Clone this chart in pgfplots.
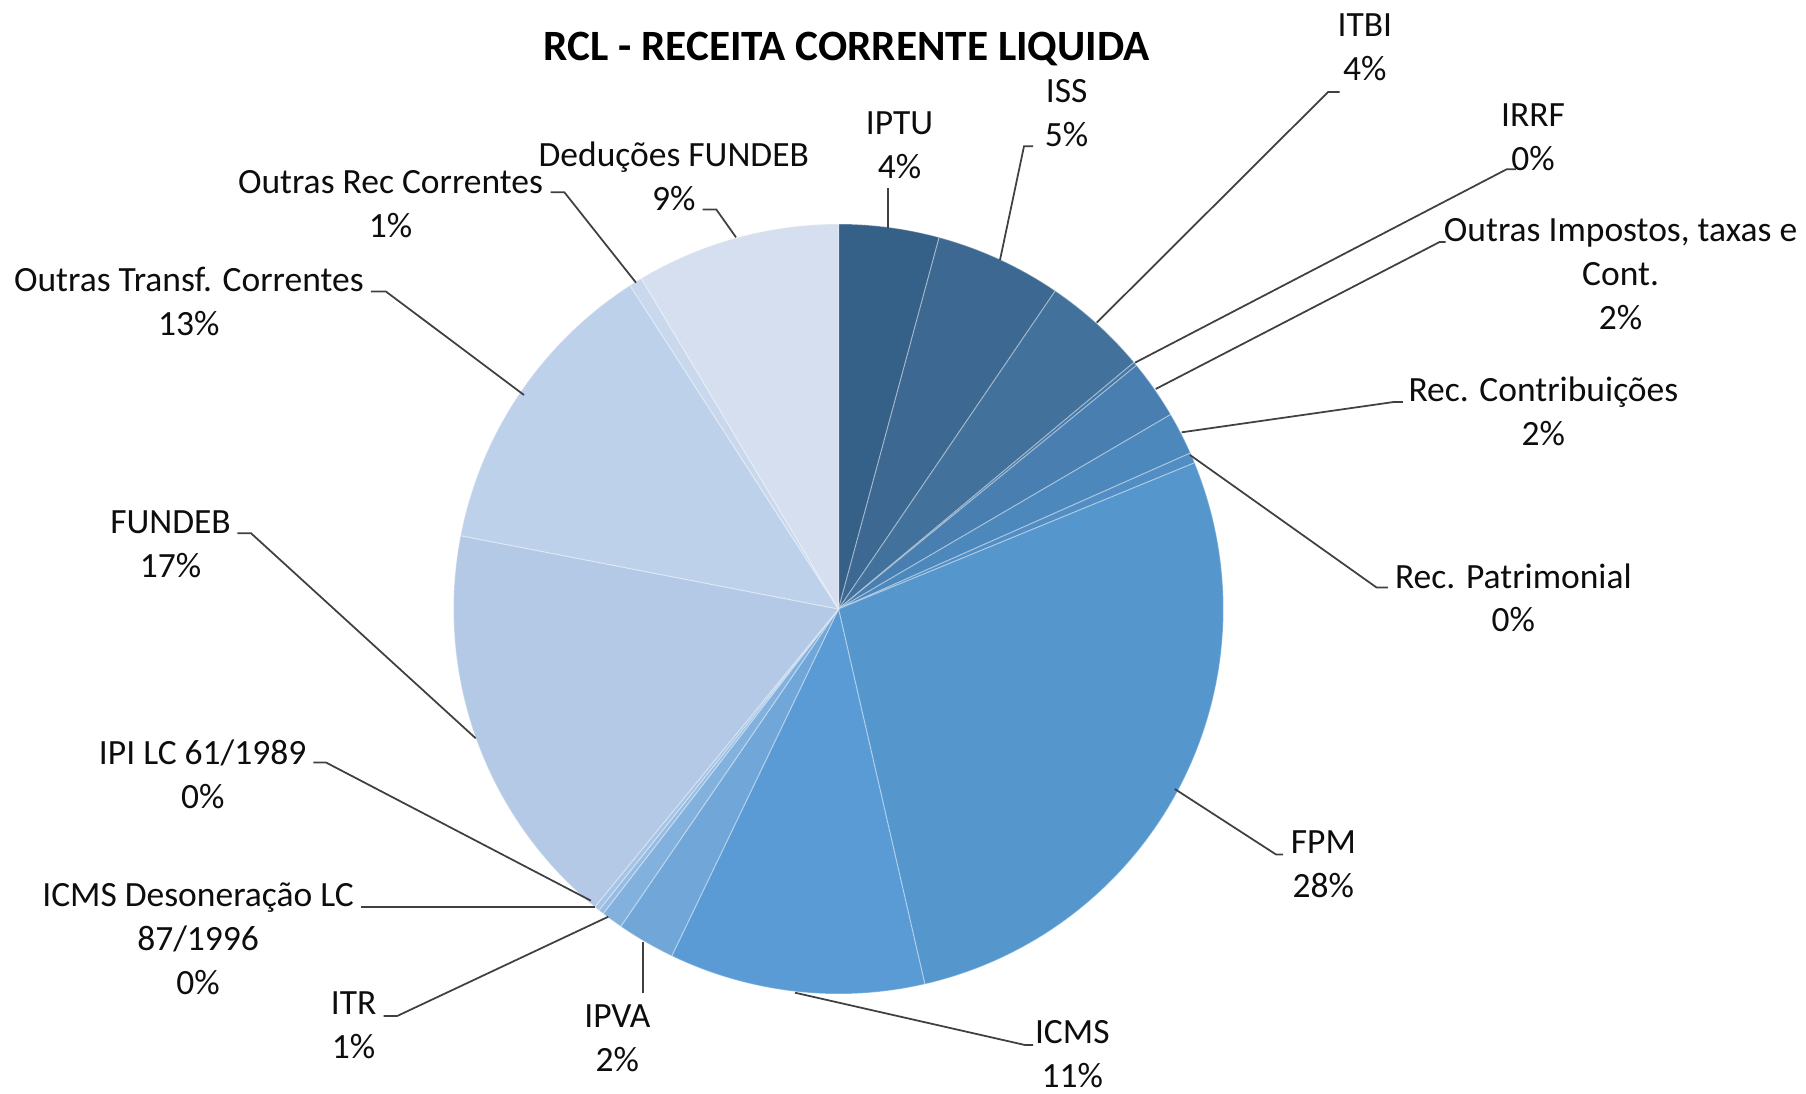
\documentclass[border=0pt]{standalone}
\usepackage{pgfplots}
\pgfplotsset{compat=1.18}
\usepackage{fontspec}
\setmainfont{Carlito}
\definecolor{c1}{RGB}{53,96,135}
\definecolor{c2}{RGB}{60,104,145}
\definecolor{c3}{RGB}{66,114,156}
\definecolor{c4}{RGB}{70,120,166}
\definecolor{c5}{RGB}{72,126,176}
\definecolor{c6}{RGB}{77,136,189}
\definecolor{c7}{RGB}{82,142,196}
\definecolor{c8}{RGB}{85,150,205}
\definecolor{c9}{RGB}{91,155,213}
\definecolor{c10}{RGB}{112,166,216}
\definecolor{c11}{RGB}{131,177,222}
\definecolor{c12}{RGB}{150,188,228}
\definecolor{c13}{RGB}{165,196,230}
\definecolor{c14}{RGB}{180,201,229}
\definecolor{c15}{RGB}{190,209,234}
\definecolor{c16}{RGB}{201,216,237}
\definecolor{c17}{RGB}{213,223,240}
\tikzset{lab/.style={font=\fontsize{10.1}{12.5}\selectfont, align=center, text=black!95},
  leader/.style={draw=black!75, line width=0.5pt, mark=none}}
\newcommand\cum{0}
\newcommand\slice[2]{%
  \pgfmathsetmacro\sa{\cum*3.6}%
  \pgfmathsetmacro\sb{(\cum+#1)*3.6}%
  \pgfmathsetmacro\tmp{\cum+#1}%
  \xdef\cum{\tmp}%
  \edef\doslice{\noexpand\addplot[fill=#2, draw=white, draw opacity=0.35, line width=0.3pt, domain=\sa:\sb, samples=90] ({838.5+385*sin(x)},{484+385*cos(x)}) -- (axis cs:838.5,484) -- cycle;}%
  \doslice
}
\begin{document}
\begin{tikzpicture}
\begin{axis}[hide axis, scale only axis, width=18.06cm, height=10.93cm,
  xmin=0, xmax=1806, ymin=0, ymax=1093, clip=false]
% slices: value (percent), colour
\slice{4.21}{c1}   % IPTU
\slice{5.31}{c2}   % ISS
\slice{4.41}{c3}   % ITBI
\slice{0.16}{c4}   % IRRF
\slice{2.48}{c5}   % Outras Impostos
\slice{1.79}{c6}   % Rec. Contribuicoes
\slice{0.44}{c7}   % Rec. Patrimonial
\slice{27.60}{c8}  % FPM
\slice{10.73}{c9}  % ICMS
\slice{2.44}{c10}  % IPVA
\slice{0.90}{c11}  % ITR
\slice{0.22}{c12}  % ICMS Desoneracao
\slice{0.22}{c13}  % IPI
\slice{17.14}{c14} % FUNDEB
\slice{12.84}{c15} % Outras Transf
\slice{0.55}{c16}  % Outras Rec Correntes
\slice{8.56}{c17}  % Deducoes FUNDEB
% leader lines
\addplot[leader] coordinates {(888.3,864.7) (888.3,905.3)};
\addplot[leader] coordinates {(1000,833) (1024,946.7) (1033,946.7)};
\addplot[leader] coordinates {(1096.7,770.3) (1328,1000.9) (1339.5,1000.9)};
\addplot[leader] coordinates {(1135,730.3) (1506.6,923.7) (1515.8,923.7)};
\addplot[leader] coordinates {(1155.7,704) (1439.8,851.1) (1445.5,851.1)};
\addplot[leader] coordinates {(1181.7,660.7) (1393.7,691) (1402.9,691)};
\addplot[leader] coordinates {(1190,638) (1376.4,505.6) (1387.9,505.6)};
\addplot[leader] coordinates {(1174.8,304) (1276.2,238.4) (1283,238.4)};
\addplot[leader] coordinates {(795,100.3) (1025,48) (1033,48)};
\addplot[leader] coordinates {(643.3,151.3) (643.3,99.7)};
\addplot[leader] coordinates {(608.3,176.3) (397.4,77.1) (383.5,77.1)};
\addplot[leader] coordinates {(595,186) (360.5,186)};
\addplot[leader] coordinates {(590.9,192.3) (326,330.5) (313.3,330.5)};
\addplot[leader] coordinates {(475.7,354.7) (251.1,559.7) (237.3,559.7)};
\addplot[leader] coordinates {(524,698) (385.8,801.6) (370.9,801.6)};
\addplot[leader] coordinates {(636,810.3) (564.4,900.7) (550.6,900.7)};
\addplot[leader] coordinates {(736,855.7) (716.4,883.4) (702.6,883.4)};
% labels
\node[font=\fontsize{12.3}{15}\selectfont\bfseries] at (axis cs:846.6,1043.5) {RCL - RECEITA CORRENTE LIQUIDA};
\node[lab] at (axis cs:899.5,948) {IPTU\\4\%};
\node[lab] at (axis cs:1066.6,980) {ISS\\5\%};
\node[lab] at (axis cs:1364.9,1045.8) {ITBI\\4\%};
\node[lab] at (axis cs:1533,956) {IRRF\\0\%};
\node[lab] at (axis cs:1620.6,818.9) {Outras Impostos, taxas e\\Cont.\\2\%};
\node[lab] at (axis cs:1543.4,681.8) {Rec. Contribuições\\2\%};
\node[lab] at (axis cs:1513.4,495.2) {Rec. Patrimonial\\0\%};
\node[lab] at (axis cs:1323.4,229.1) {FPM\\28\%};
\node[lab] at (axis cs:1072.3,39) {ICMS\\11\%};
\node[lab] at (axis cs:617.4,54.7) {IPVA\\2\%};
\node[lab] at (axis cs:353.6,67.3) {ITR\\1\%};
\node[lab] at (axis cs:198.1,154.3) {ICMS Desoneração LC\\87/1996\\0\%};
\node[lab] at (axis cs:202.7,318.4) {IPI LC 61/1989\\0\%};
\node[lab] at (axis cs:170.5,548.8) {FUNDEB\\17\%};
\node[lab] at (axis cs:188.9,791.8) {Outras Transf. Correntes\\13\%};
\node[lab] at (axis cs:390.5,888.6) {Outras Rec Correntes\\1\%};
\node[lab] at (axis cs:673.8,916.8) {Deduções FUNDEB\\9\%};
\end{axis}
\pgfresetboundingbox
\path[use as bounding box] (0,0) rectangle (18.06cm,10.93cm);
\end{tikzpicture}
\end{document}
